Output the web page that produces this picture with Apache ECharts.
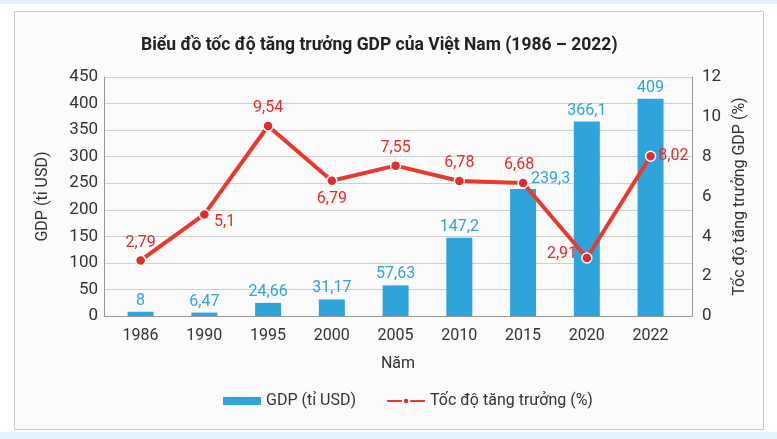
<!DOCTYPE html>
<html><head><meta charset="utf-8">
<script src="https://cdn.jsdelivr.net/npm/echarts@6/dist/echarts.min.js"></script>
<style>html,body{margin:0;padding:0;background:#fff}#c{width:777px;height:439px}</style>
</head><body><div id="c"></div>
<script>
const categories = ['1986','1990','1995','2000','2005','2010','2015','2020','2022'];
const gdp = [8, 6.47, 24.66, 31.17, 57.63, 147.2, 239.3, 366.1, 409];
const growth = [2.79, 5.1, 9.54, 6.79, 7.55, 6.78, 6.68, 2.91, 8.02];
const leftTicks = [0, 450, 50];
const rightTicks = [0, 12, 2];

const FONT = 'Roboto, "Noto Sans", sans-serif';
const fmt = v => String(v).replace('.', ',');
const idx = categories.map((c, i) => i);
const chart = echarts.init(document.getElementById('c'));
const growthLabelPos = ['top','right','top','bottom','top','top','top','left','right'];
const growthLabelOffset = [[0,0],[0,8],[0,0],[0,0],[0,0],[0,0],[-4,0],[0,-4],[-2,0]];
const gdpLabelPos = ['top','top','top','top','top','top',[21,-18],'top','top'];
chart.setOption({
  backgroundColor: '#fff',
  textStyle: { fontFamily: FONT },
  graphic: [
    { type: 'rect', shape: { x: 0, y: 0, width: 777, height: 4 }, style: { fill: '#e6f0fa' }, z: -10 },
    { type: 'rect', shape: { x: 0, y: 432, width: 777, height: 7 }, style: { fill: '#e6f0fa' }, z: -10 },
    { type: 'rect', shape: { x: 14.5, y: 11.5, width: 749, height: 418 }, style: { fill: '#fbfbfb', stroke: '#c8c8c8', lineWidth: 1 }, z: -9 }
  ],
  title: {
    text: 'Biểu đồ tốc độ tăng trưởng GDP của Việt Nam (1986 – 2022)',
    left: 136, top: 32,
    textStyle: { fontFamily: FONT, fontSize: 17.5, fontWeight: 'bold', color: '#222' }
  },
  legend: {
    bottom: 25, left: 218, itemGap: 30, itemWidth: 38, itemHeight: 8,
    textStyle: { fontFamily: FONT, fontSize: 16, color: '#333' },
    data: [
      { name: 'GDP (tỉ USD)', icon: 'rect' },
      { name: 'Tốc độ tăng trưởng (%)' }
    ]
  },
  grid: { left: 104, right: 85, top: 77, bottom: 123 },
  xAxis: {
    type: 'value', min: -0.574, max: 8.65,
    name: 'Năm', nameLocation: 'middle', nameGap: 40,
    nameTextStyle: { fontFamily: FONT, fontSize: 16, color: '#333' },
    axisLine: { show: true, onZero: false, lineStyle: { color: '#999' } },
    axisTick: { show: false },
    splitLine: { show: false },
    axisLabel: { fontFamily: FONT, fontSize: 16, color: '#333', margin: 12,
      customValues: idx, formatter: v => categories[Math.round(v)] }
  },
  yAxis: [
    {
      type: 'value', min: leftTicks[0], max: leftTicks[1], interval: leftTicks[2],
      name: 'GDP (tỉ USD)', nameLocation: 'middle', nameGap: 53, nameRotate: 90,
      nameTextStyle: { fontFamily: FONT, fontSize: 16, color: '#333' },
      axisLine: { show: true, onZero: false, lineStyle: { color: '#999' } },
      axisTick: { show: false },
      axisLabel: { fontFamily: FONT, fontSize: 17, color: '#333', margin: 6 },
      splitLine: { lineStyle: { color: '#cfcfcf' } }
    },
    {
      type: 'value', min: rightTicks[0], max: rightTicks[1], interval: rightTicks[2],
      name: 'Tốc độ tăng trưởng GDP (%)', nameLocation: 'middle', nameGap: 40, nameRotate: 90,
      nameTextStyle: { fontFamily: FONT, fontSize: 16, color: '#333' },
      axisLine: { show: true, onZero: false, lineStyle: { color: '#999' } },
      axisTick: { show: false },
      axisLabel: { fontFamily: FONT, fontSize: 17, color: '#333', margin: 10 },
      splitLine: { show: false }
    }
  ],
  series: [
    {
      name: 'GDP (tỉ USD)', type: 'bar', barWidth: 26,
      data: gdp.map((v, i) => ({ value: [idx[i], v], label: { position: gdpLabelPos[i] } })),
      itemStyle: { color: '#2ea3dc' },
      label: { show: true, distance: 3, fontFamily: FONT, fontSize: 16, color: '#2ea3dc', formatter: p => fmt(p.value[1]) }
    },
    {
      name: 'Tốc độ tăng trưởng (%)', type: 'line', yAxisIndex: 1,
      data: growth.map((v, i) => ({ value: [idx[i], v], label: { position: growthLabelPos[i], offset: growthLabelOffset[i] } })),
      symbol: 'circle', symbolSize: 10,
      lineStyle: { color: '#e83a2c', width: 4 },
      itemStyle: { color: '#e52a2a', borderColor: '#fff', borderWidth: 1.5 },
      label: { show: true, distance: 4, fontFamily: FONT, fontSize: 16, color: '#e52a2a', formatter: p => fmt(p.value[1]) },
      z: 5
    }
  ]
});
</script></body></html>
